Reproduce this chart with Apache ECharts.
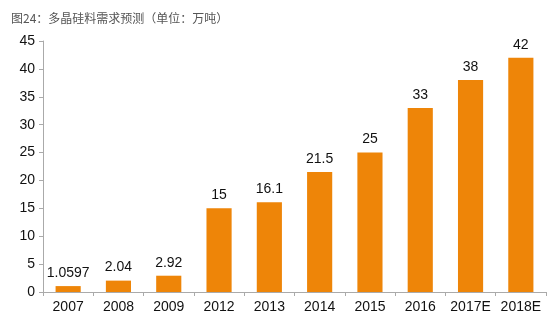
<!DOCTYPE html>
<html><head><meta charset="utf-8">
<script src="https://cdn.jsdelivr.net/npm/echarts@6/dist/echarts.min.js"></script>
<style>html,body{margin:0;padding:0;background:#fff}#c{width:559px;height:327px}</style>
</head><body><div id="c"></div>
<script>
const categories = ['2007','2008','2009','2012','2013','2014','2015','2016','2017E','2018E'];
const values = [1.0597, 2.04, 2.92, 15, 16.1, 21.5, 25, 33, 38, 42];
const labels = ['1.0597','2.04','2.92','15','16.1','21.5','25','33','38','42'];
const yTicks = [0,5,10,15,20,25,30,35,40,45];
const chart = echarts.init(document.getElementById('c'));
chart.setOption({
  animation:false,
  title:{text:'图24：多晶硅料需求预测（单位：万吨）',left:6,top:7,textStyle:{fontSize:12,fontWeight:'normal',color:'#555',fontFamily:'"Noto Sans CJK SC", sans-serif'}},
  grid:{left:43,right:13,top:41,bottom:35},
  xAxis:{type:'category',data:categories,
    axisLine:{lineStyle:{color:'#aaa'}},
    axisTick:{show:true,length:4,interval:0,lineStyle:{color:'#aaa'}},
    axisLabel:{interval:0,color:'#111',fontSize:14,margin:8,fontFamily:'Arial, "Liberation Sans", sans-serif'}},
  yAxis:{type:'value',min:0,max:45,interval:5,
    axisLine:{show:true,lineStyle:{color:'#aaa'}},
    axisTick:{show:true,length:4,lineStyle:{color:'#aaa'}},
    splitLine:{show:false},
    axisLabel:{color:'#111',fontSize:14,margin:8,fontFamily:'Arial, "Liberation Sans", sans-serif'}},
  series:[{type:'bar',data:values,barWidth:'50%',itemStyle:{color:'#EE8508'},
    label:{show:true,position:'top',distance:6,color:'#111',fontSize:14,fontFamily:'Arial, "Liberation Sans", sans-serif',
      formatter:p=>labels[p.dataIndex]}}]
});
</script></body></html>
